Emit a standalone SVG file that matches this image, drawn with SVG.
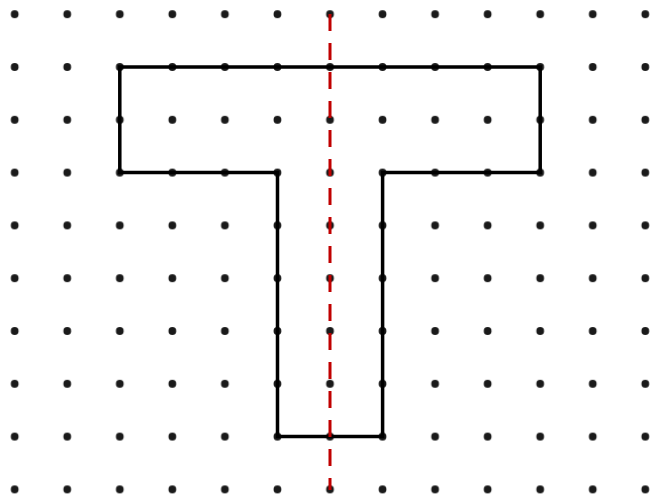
<svg xmlns="http://www.w3.org/2000/svg" width="650" height="500" viewBox="0 0 650 500">
<defs>
<style>
.dot{fill:#1a1a1a}
.shape{fill:none;stroke:#000;stroke-width:3.5;stroke-linejoin:miter}
.axis{stroke:#c00000;stroke-width:3;stroke-dasharray:17 12;fill:none}
</style>
<pattern id="grid" x="-11.55" y="-38.6" width="52.55" height="52.8" patternUnits="userSpaceOnUse">
<circle class="dot" cx="26.25" cy="52.8" r="3.9"/>
<circle class="dot" cx="26.25" cy="0" r="3.9"/>
</pattern>
</defs>
<rect width="650" height="500" fill="#fff"/>
<g id="grid-dots">
<rect x="0" y="0" width="650" height="500" fill="url(#grid)"/>
</g>
<g id="t-shape">
<polygon class="shape" points="119.8,67 540.2,67 540.2,172.6 382.6,172.6 382.6,436.6 277.5,436.6 277.5,172.6 119.8,172.6"/>
</g>
<g id="connectors">
<line class="axis" x1="330" y1="14" x2="330" y2="490"/>
</g>
</svg>
